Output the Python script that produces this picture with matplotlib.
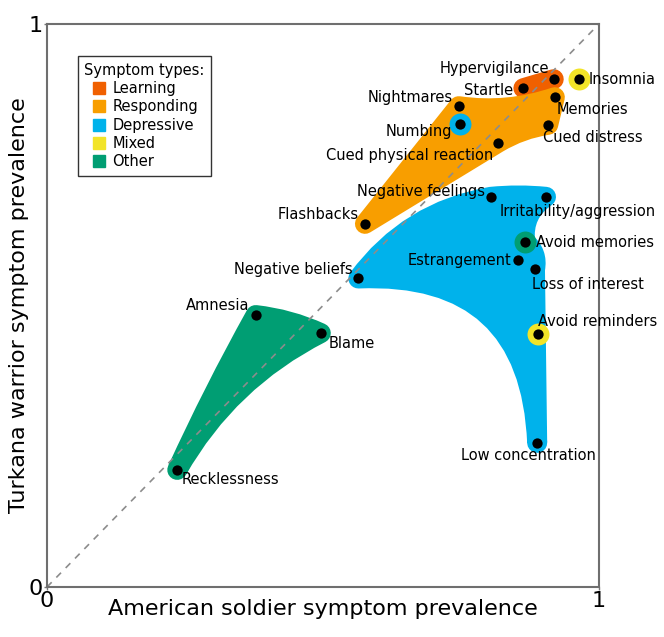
import numpy as np
import matplotlib
matplotlib.use("Agg")
import matplotlib.pyplot as plt
from matplotlib.path import Path
from matplotlib.patches import PathPatch, Patch, Rectangle
from matplotlib.legend_handler import HandlerPatch

# ---------------- data ----------------
symptoms = ["Hypervigilance", "Startle", "Insomnia", "Memories", "Nightmares",
            "Numbing", "Cued distress", "Cued physical reaction", "Negative feelings",
            "Irritability/aggression", "Flashbacks", "Avoid memories", "Estrangement",
            "Loss of interest", "Negative beliefs", "Avoid reminders",
            "Low concentration", "Amnesia", "Blame", "Recklessness"]
american = [0.918, 0.863, 0.963, 0.920, 0.746, 0.749, 0.908, 0.817, 0.804, 0.904,
            0.576, 0.866, 0.854, 0.884, 0.564, 0.889, 0.888, 0.378, 0.496, 0.236]
turkana = [0.902, 0.886, 0.902, 0.870, 0.854, 0.822, 0.821, 0.789, 0.693, 0.693,
           0.645, 0.613, 0.580, 0.564, 0.548, 0.450, 0.256, 0.483, 0.451, 0.208]
symptom_type = ["Learning", "Learning", "Mixed", "Responding", "Responding",
                "Depressive", "Responding", "Responding", "Depressive", "Depressive",
                "Responding", "Other", "Depressive", "Depressive", "Depressive",
                "Mixed", "Depressive", "Other", "Other", "Other"]
blob_group = ["Learning", "Learning", None, "Responding", "Responding",
              "Responding", "Responding", "Responding", "Depressive", "Depressive",
              "Responding", "Depressive", "Depressive", "Depressive", "Depressive",
              "Depressive", "Depressive", "Other", "Other", "Other"]

type_names = ["Learning", "Responding", "Depressive", "Mixed", "Other"]
type_colors = ["#F06000", "#F89E00", "#00B2EB", "#F2E428", "#009E73"]

# hull outlines: vertex order and edge bend (styling of the blobs)
outlines = {
    "Learning": [("Startle", 0.0), ("Hypervigilance", 0.0)],
    "Responding": [("Flashbacks", 0.0), ("Nightmares", -0.12), ("Memories", 0.0),
                   ("Cued distress", -0.1), ("Cued physical reaction", 0.0)],
    "Depressive": [("Negative beliefs", 0.2), ("Negative feelings", 0.05),
                   ("Irritability/aggression", -0.3), ("Avoid memories", 0.3),
                   ("Loss of interest", 0.0), ("Low concentration", -0.5)],
    "Other": [("Recklessness", 0.02), ("Amnesia", 0.08), ("Blame", -0.15)],
}

# label placement (offset pixels, ha)
label_pos = {
    "Hypervigilance": (-5, 11, "right"),
    "Startle": (-10, -2, "right"),
    "Insomnia": (10, 0, "left"),
    "Memories": (2, -12, "left"),
    "Nightmares": (-6, 9, "right"),
    "Numbing": (-8, -7, "right"),
    "Cued distress": (-5, -13, "left"),
    "Cued physical reaction": (-5, -13, "right"),
    "Negative feelings": (-6, 5, "right"),
    "Irritability/aggression": (-46, -15, "left"),
    "Flashbacks": (-6, 9, "right"),
    "Avoid memories": (11, -1, "left"),
    "Estrangement": (-7, 0, "right"),
    "Loss of interest": (-3, -15, "left"),
    "Negative beliefs": (-6, 9, "right"),
    "Avoid reminders": (0, 12, "left"),
    "Low concentration": (-9, -13, "center"),
    "Amnesia": (-6, 10, "right"),
    "Blame": (8, -10, "left"),
    "Recklessness": (4, -10, "left"),
}

# ---------------- figure ----------------
fig = plt.figure(figsize=(6.64, 6.37), dpi=100)
ax = fig.add_axes([47 / 664, 1 - 587 / 637, 552 / 664, 563 / 637])
ax.set_xlim(0, 1)
ax.set_ylim(0, 1)

color_of = dict(zip(type_names, type_colors))
idx = {s: i for i, s in enumerate(symptoms)}

# blobs
for group, verts in outlines.items():
    pts = np.array([[american[idx[n]], turkana[idx[n]]] for n, _ in verts])
    disp = ax.transData.transform(pts)
    n = len(disp)
    area = 0.0
    for i in range(n):
        x1, y1 = disp[i]
        x2, y2 = disp[(i + 1) % n]
        area += x1 * y2 - x2 * y1
    ccw = area > 0
    codes = [Path.MOVETO]
    path_pts = [disp[0]]
    for i in range(n):
        p1 = disp[i]
        p2 = disp[(i + 1) % n]
        d = p2 - p1
        L = np.hypot(*d)
        nrm = np.array([d[1], -d[0]]) / L
        if not ccw:
            nrm = -nrm
        bend = verts[i][1]
        ctrl = (p1 + p2) / 2 + nrm * bend * L
        codes += [Path.CURVE3, Path.CURVE3]
        path_pts += [ctrl, p2]
    codes.append(Path.CLOSEPOLY)
    path_pts.append(disp[0])
    data_pts = ax.transData.inverted().transform(np.array(path_pts))
    c = color_of[group]
    patch = PathPatch(Path(data_pts, codes), facecolor=c, edgecolor=c,
                      linewidth=14.4, joinstyle="round", capstyle="round",
                      transform=ax.transData, zorder=1)
    ax.add_patch(patch)

# diagonal
ax.plot([0, 1], [0, 1], ls=(0, (4, 4)), color="#8c8c8c", lw=1.2, zorder=2)

# rings for symptoms whose type differs from their blob
for s, x, y, t, g in zip(symptoms, american, turkana, symptom_type, blob_group):
    if t != g:
        ax.scatter([x], [y], s=250, color=color_of[t], zorder=3, linewidths=0)

ax.scatter(american, turkana, s=55, color="black", zorder=4, linewidths=0)

for s, x, y in zip(symptoms, american, turkana):
    dx, dy, ha = label_pos[s]
    ax.annotate(s, (x, y), xytext=(dx, dy), textcoords="offset pixels",
                ha=ha, va="center", fontsize=10.5, color="black", zorder=5)

# axes styling
ax.set_xticks([0, 1])
ax.set_yticks([0, 1])
ax.set_xticklabels(["0", "1"], fontsize=16)
ax.set_yticklabels(["0", "1"], fontsize=16)
ax.tick_params(length=2, width=1, color="#777777", pad=1)
for sp in ax.spines.values():
    sp.set_color("#6f6f6f")
    sp.set_linewidth(1.5)
ax.set_xlabel("American soldier symptom prevalence", fontsize=16)
ax.xaxis.label.set_va("center")
ax.xaxis.set_label_coords(0.5, (587 - 609) / 563)
ax.set_ylabel("Turkana warrior symptom prevalence", fontsize=16)
ax.yaxis.label.set_va("center")
ax.yaxis.set_label_coords((19 - 47) / 552, 0.5)


def square_handle(legend, orig_handle, xdescent, ydescent, width, height, fontsize):
    size = height
    return Rectangle((-xdescent + width - size, -ydescent), size, size)


handles = [Patch(facecolor=c, edgecolor=c, label=n) for n, c in zip(type_names, type_colors)]
leg = ax.legend(handles=handles, title="Symptom types:", loc="upper left",
                bbox_to_anchor=(0.056, 0.943), fontsize=10.5, title_fontsize=10.5,
                frameon=True, fancybox=False, edgecolor="#333333", framealpha=1,
                handlelength=1.44, handleheight=0.9, handletextpad=0.48,
                labelspacing=0.23, borderpad=0.45, borderaxespad=0,
                alignment="left",
                handler_map={Patch: HandlerPatch(patch_func=square_handle)})
leg.get_frame().set_linewidth(1.0)

fig.savefig("out.png", dpi=100)
